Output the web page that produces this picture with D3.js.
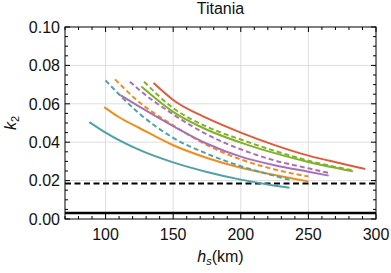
<!DOCTYPE html>
<html><head><meta charset="utf-8">
<script src="https://cdn.jsdelivr.net/npm/d3@7"></script>
<style>body{margin:0;background:#fff}svg{display:block}text{font-family:"Liberation Sans",Arial,sans-serif}</style>
</head><body><svg id="c" width="391" height="273"></svg>
<script>
// ---- data ----
const title = "Titania";
const xTicks = [100, 150, 200, 250, 300];
const yTicks = [0.00, 0.02, 0.04, 0.06, 0.08, 0.10];
const yTickLabels = ["0.00", "0.02", "0.04", "0.06", "0.08", "0.10"];
const refDashedK = 0.0185;
const refSolidK = 0.0031;

const hTealSolid = [88, 100, 125, 150, 175, 200, 220, 236];
const kTealSolid = [0.0505, 0.0450, 0.0360, 0.0295, 0.0245, 0.0205, 0.0180, 0.0163];
const hOrangeSolid = [99, 110, 125, 150, 175, 200, 225, 250];
const kOrangeSolid = [0.0583, 0.0530, 0.0474, 0.0384, 0.0318, 0.0267, 0.0229, 0.0196];
const hTealDashed = [100, 125, 150, 175, 200, 225, 236];
const kTealDashed = [0.0722, 0.0549, 0.0423, 0.0340, 0.0275, 0.0225, 0.0205];
const hOrangeDashed = [107, 125, 150, 175, 200, 225, 250];
const kOrangeDashed = [0.0727, 0.0608, 0.0488, 0.0385, 0.0310, 0.0258, 0.0221];
const hPurpleSolid = [111, 125, 150, 175, 200, 225, 250, 265];
const kPurpleSolid = [0.0645, 0.0585, 0.0484, 0.0392, 0.0325, 0.0280, 0.0246, 0.0226];
const hPurpleDashed = [118, 125, 150, 175, 200, 225, 250, 265];
const kPurpleDashed = [0.0715, 0.0672, 0.0545, 0.0440, 0.0363, 0.0305, 0.0264, 0.0240];
const hGreenSolid = [126.5, 150, 175, 200, 225, 250, 283];
const kGreenSolid = [0.0690, 0.0558, 0.0465, 0.0398, 0.0343, 0.0297, 0.0248];
const hGreenDashed = [128.5, 150, 175, 200, 225, 250, 283];
const kGreenDashed = [0.0715, 0.0578, 0.0480, 0.0414, 0.0355, 0.0304, 0.0253];
const hRedSolid = [135.5, 150, 175, 200, 225, 250, 275, 292];
const kRedSolid = [0.0708, 0.0620, 0.0525, 0.0450, 0.0385, 0.0330, 0.0288, 0.0260];

const series = [
  {h: hTealSolid, k: kTealSolid, color: "#4ea2a8", dashed: false},
  {h: hOrangeSolid, k: kOrangeSolid, color: "#ef8e1e", dashed: false},
  {h: hTealDashed, k: kTealDashed, color: "#4ea2a8", dashed: true},
  {h: hOrangeDashed, k: kOrangeDashed, color: "#ef8e1e", dashed: true},
  {h: hPurpleSolid, k: kPurpleSolid, color: "#a970b8", dashed: false},
  {h: hPurpleDashed, k: kPurpleDashed, color: "#a970b8", dashed: true},
  {h: hGreenSolid, k: kGreenSolid, color: "#80b12a", dashed: false},
  {h: hGreenDashed, k: kGreenDashed, color: "#80b12a", dashed: true},
  {h: hRedSolid, k: kRedSolid, color: "#e05b3b", dashed: false}
];

// ---- layout ----
const L = 65, R = 376, T = 27, B = 219;
const svg = d3.select("#c");
const x = d3.scaleLinear().domain([70, 300]).range([L, R]);
const y = d3.scaleLinear().domain([0, 0.10]).range([B, T]);

// grid
const g = svg.append("g");
g.selectAll(".gx").data(xTicks.filter(v => v < 300)).join("line")
  .attr("x1", d => x(d)).attr("x2", d => x(d)).attr("y1", T).attr("y2", B)
  .attr("stroke", "#dedede").attr("stroke-width", 1);
g.selectAll(".gy").data(yTicks.filter(v => v > 0 && v < 0.1)).join("line")
  .attr("y1", d => y(d)).attr("y2", d => y(d)).attr("x1", L).attr("x2", R)
  .attr("stroke", "#dedede").attr("stroke-width", 1);

// clip
svg.append("clipPath").attr("id", "clip").append("rect")
  .attr("x", L).attr("y", T).attr("width", R - L).attr("height", B - T);
const plot = svg.append("g").attr("clip-path", "url(#clip)");

// reference lines
plot.append("line").attr("x1", L).attr("x2", R)
  .attr("y1", y(refDashedK)).attr("y2", y(refDashedK))
  .attr("stroke", "#000").attr("stroke-width", 2).attr("stroke-dasharray", "6,3.5");
plot.append("line").attr("x1", L).attr("x2", R)
  .attr("y1", y(refSolidK)).attr("y2", y(refSolidK))
  .attr("stroke", "#000").attr("stroke-width", 2.5);

// curves
const line = d3.line().x(d => x(d[0])).y(d => y(d[1])).curve(d3.curveMonotoneX);
series.forEach(s => {
  const pts = s.h.map((h, i) => [h, s.k[i]]);
  plot.append("path").attr("d", line(pts)).attr("fill", "none")
    .attr("stroke", s.color).attr("stroke-width", 2)
    .attr("stroke-dasharray", s.dashed ? "5,3" : null);
});

// frame
svg.append("rect").attr("x", L).attr("y", T).attr("width", R - L).attr("height", B - T)
  .attr("fill", "none").attr("stroke", "#000").attr("stroke-width", 1);

// ticks (inward, all sides)
const xMinor = d3.range(70, 301, 10);
const yMinor = d3.range(0, 0.1001, 0.005);
const tg = svg.append("g").attr("stroke", "#000").attr("stroke-width", 1);
xMinor.forEach(v => {
  const len = (v % 50 === 0) ? 5 : 3;
  tg.append("line").attr("x1", x(v)).attr("x2", x(v)).attr("y1", B).attr("y2", B - len);
  tg.append("line").attr("x1", x(v)).attr("x2", x(v)).attr("y1", T).attr("y2", T + len);
});
yMinor.forEach(v => {
  const major = Math.abs(Math.round(v / 0.02) * 0.02 - v) < 1e-6;
  const len = major ? 5 : 3;
  tg.append("line").attr("y1", y(v)).attr("y2", y(v)).attr("x1", L).attr("x2", L + len);
  tg.append("line").attr("y1", y(v)).attr("y2", y(v)).attr("x1", R).attr("x2", R - len);
});

// tick labels
svg.selectAll(".xl").data(xTicks).join("text")
  .attr("x", d => x(d)).attr("y", 240).attr("text-anchor", "middle")
  .attr("font-size", 16).attr("fill", "#111").text(d => d);
svg.selectAll(".yl").data(yTicks).join("text")
  .attr("x", 60).attr("y", d => y(d) + 5.8).attr("text-anchor", "end")
  .attr("font-size", 16).attr("fill", "#111").text((d, i) => yTickLabels[i]);

// title
svg.append("text").attr("x", (L + R) / 2).attr("y", 14).attr("text-anchor", "middle")
  .attr("font-size", 16).attr("fill", "#111").text(title);

// axis labels
const xl = svg.append("text").attr("x", (L + R) / 2).attr("y", 262).attr("text-anchor", "middle")
  .attr("font-size", 16).attr("fill", "#111");
xl.append("tspan").attr("font-style", "italic").text("h");
xl.append("tspan").attr("font-style", "italic").attr("font-size", 11).attr("dy", 3).text("s");
xl.append("tspan").attr("dy", -3).text("(km)");

const yl = svg.append("text").attr("transform", `translate(16,${(T + B) / 2}) rotate(-90)`)
  .attr("text-anchor", "middle").attr("font-size", 16).attr("fill", "#111");
yl.append("tspan").attr("font-style", "italic").text("k");
yl.append("tspan").attr("font-size", 11).attr("dy", 3).text("2");
</script></body></html>
